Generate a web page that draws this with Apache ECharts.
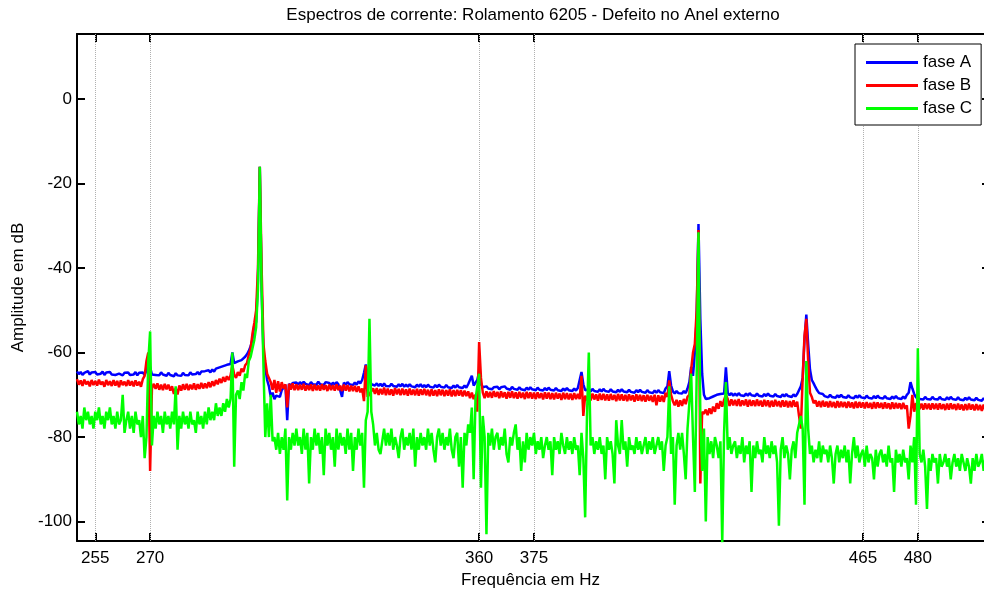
<!DOCTYPE html>
<html>
<head>
<meta charset="utf-8">
<script src="https://cdn.jsdelivr.net/npm/echarts@6/dist/echarts.min.js"></script>
<style>html,body{margin:0;padding:0;background:#fff}#c{width:984px;height:592px}</style>
</head>
<body>
<div id="c"></div>
<script>
// Frequency grid: 250 Hz to 500 Hz, 0.5 Hz spacing
const fStart = 250, fStep = 0.5;
const xTicks = [255, 270, 360, 375, 465, 480];
const yTicks = [-100, -80, -60, -40, -20, 0];
const seriesNames = ['fase A', 'fase B', 'fase C'];

const faseA = [
-64.5,-65.1,-64.6,-65.3,-64.8,-65.0,-64.4,-65.2,-64.7,-65.1,
-64.6,-65.2,-64.9,-65.0,-64.5,-65.3,-64.7,-65.1,-64.6,-65.2,
-64.8,-65.3,-64.9,-65.0,-64.6,-65.4,-64.8,-65.2,-64.7,-65.3,
-64.9,-65.2,-64.6,-65.4,-64.8,-65.1,-64.7,-65.3,-64.2,-61.8,
-63.5,-65.2,-64.8,-65.3,-64.9,-65.4,-64.7,-65.2,-64.9,-65.5,
-64.8,-65.3,-65.0,-65.6,-64.9,-65.4,-65.1,-65.5,-64.8,-65.3,
-64.9,-65.4,-64.7,-65.2,-64.8,-65.1,-64.6,-65.2,-64.5,-64.9,
-64.4,-64.8,-64.2,-64.7,-64.0,-64.5,-63.8,-64.2,-63.5,-63.9,
-63.2,-63.6,-62.9,-63.3,-62.7,-60.0,-62.5,-62.8,-62.1,-62.4,
-61.8,-61.4,-61.0,-60.4,-59.6,-58.5,-56.8,-53.5,-52.8,-43.0,
-16.0,-45.0,-60.0,-63.5,-66.5,-68.0,-70.5,-69.5,-71.0,-70.2,
-69.8,-70.5,-68.9,-68.3,-67.6,-76.0,-67.4,-67.9,-67.2,-67.6,
-67.1,-67.6,-67.0,-67.5,-66.9,-67.4,-67.1,-67.7,-67.0,-67.5,
-67.2,-67.6,-66.9,-67.5,-67.1,-67.7,-67.0,-67.4,-67.2,-67.8,
-67.1,-67.6,-67.0,-67.5,-67.2,-70.5,-67.1,-67.6,-67.0,-67.5,
-67.2,-67.7,-67.1,-67.6,-66.8,-67.3,-66.5,-64.8,-62.8,-65.5,
-66.0,-67.5,-67.2,-67.8,-67.3,-67.9,-67.4,-68.0,-67.3,-67.9,
-67.5,-68.0,-67.4,-67.9,-67.6,-68.1,-67.5,-68.0,-67.4,-68.1,
-67.6,-68.1,-67.5,-68.0,-67.7,-68.2,-67.6,-68.1,-67.5,-68.2,
-67.7,-68.2,-67.6,-68.1,-67.8,-68.3,-67.7,-68.2,-67.6,-68.1,
-67.8,-68.3,-67.7,-68.2,-67.9,-68.4,-67.8,-68.3,-67.7,-68.2,
-67.9,-68.4,-67.8,-68.3,-67.5,-67.9,-65.5,-67.8,-68.0,-66.5,
-64.5,-67.5,-68.2,-68.6,-68.0,-68.5,-68.1,-68.7,-68.2,-68.6,
-68.1,-68.7,-68.2,-68.6,-68.0,-68.5,-68.2,-68.8,-68.1,-68.6,
-68.3,-68.8,-68.2,-68.7,-68.4,-68.9,-68.3,-68.8,-68.2,-68.7,
-68.4,-68.9,-68.3,-68.8,-68.5,-69.0,-68.4,-68.9,-68.3,-68.8,
-68.5,-69.0,-68.4,-68.9,-68.6,-69.1,-68.5,-69.0,-68.4,-68.9,
-68.6,-69.1,-68.5,-69.0,-68.4,-68.8,-64.6,-67.5,-68.9,-69.2,
-68.7,-69.2,-68.6,-69.1,-68.8,-69.3,-68.7,-69.2,-68.6,-69.1,
-68.8,-69.3,-68.7,-69.2,-68.9,-69.4,-68.8,-69.3,-68.7,-69.2,
-68.9,-69.4,-68.8,-69.3,-69.0,-69.5,-68.9,-69.4,-68.8,-69.3,
-69.0,-69.5,-68.9,-69.4,-69.1,-69.6,-69.0,-69.5,-68.9,-69.4,
-69.1,-69.6,-68.5,-68.0,-64.4,-67.8,-69.2,-69.7,-69.1,-69.6,
-69.2,-69.7,-69.1,-69.6,-68.5,-67.0,-63.4,-65.5,-60.0,-52.0,
-29.6,-52.0,-65.0,-70.0,-71.0,-71.3,-70.8,-71.0,-70.4,-70.7,
-70.0,-70.4,-69.8,-70.1,-69.7,-63.5,-69.5,-70.1,-69.6,-70.2,
-69.7,-70.2,-69.6,-70.1,-69.8,-70.3,-69.7,-70.2,-69.6,-70.1,
-69.8,-70.3,-69.7,-70.2,-69.9,-70.4,-69.8,-70.3,-69.7,-70.2,
-69.9,-70.4,-69.8,-70.3,-70.0,-70.5,-69.9,-70.4,-69.8,-70.3,
-70.0,-70.5,-69.9,-70.4,-69.8,-69.5,-68.0,-66.0,-57.0,-51.0,
-58.0,-64.0,-66.5,-67.3,-68.2,-69.0,-69.6,-70.0,-69.8,-70.3,
-70.1,-70.6,-70.0,-70.5,-70.2,-70.7,-70.1,-70.6,-70.0,-70.5,
-70.2,-70.7,-70.1,-70.6,-70.3,-70.8,-70.2,-70.7,-70.1,-70.6,
-70.3,-70.8,-70.2,-70.7,-70.4,-70.9,-70.3,-70.8,-70.2,-70.7,
-70.4,-70.9,-70.3,-70.8,-70.5,-71.0,-70.4,-70.9,-70.3,-70.8,
-70.5,-71.0,-70.4,-70.9,-70.0,-69.5,-67.0,-68.5,-69.8,-70.6,
-70.5,-71.0,-70.6,-71.1,-70.5,-71.0,-70.6,-71.1,-70.5,-71.0,
-70.6,-71.1,-70.5,-71.0,-70.7,-71.2,-70.6,-71.1,-70.5,-71.0,
-70.7,-71.2,-70.6,-71.1,-70.8,-71.3,-70.7,-71.2,-70.6,-71.1,
-70.8,-71.3,-70.7,-71.2,-70.9,-71.4,-70.8,-71.3,-70.7,-71.2,
-70.9
];

const faseB = [
-66.3,-67.6,-66.6,-67.9,-66.4,-67.5,-66.8,-68.0,-66.5,-67.7,
-66.7,-67.8,-66.4,-67.6,-66.9,-68.1,-66.5,-67.7,-66.8,-67.9,
-66.5,-67.8,-66.7,-68.2,-66.6,-67.7,-66.9,-67.9,-66.5,-67.8,
-66.8,-68.0,-66.6,-67.8,-66.9,-68.1,-66.3,-65.5,-62.0,-60.0,
-88.0,-68.5,-67.4,-68.6,-67.3,-68.8,-67.6,-68.9,-67.4,-68.7,
-67.6,-69.0,-68.0,-69.8,-68.4,-69.9,-67.8,-69.0,-67.5,-68.8,
-67.4,-68.9,-67.6,-68.7,-67.3,-68.8,-67.5,-68.6,-67.2,-68.5,
-67.3,-68.4,-67.0,-68.2,-66.8,-67.9,-66.5,-67.5,-66.2,-67.2,
-65.8,-66.9,-65.6,-66.5,-65.4,-63.0,-65.2,-66.0,-64.6,-65.5,
-63.8,-64.6,-63.0,-62.5,-60.5,-59.0,-55.5,-53.0,-50.0,-40.0,
-16.0,-40.0,-58.0,-62.0,-65.0,-66.0,-67.0,-68.8,-66.5,-69.5,
-66.8,-69.2,-67.0,-68.5,-67.5,-73.0,-67.4,-68.8,-67.3,-68.9,
-67.5,-68.9,-67.6,-68.8,-67.4,-69.0,-67.7,-68.9,-67.5,-69.1,
-67.6,-68.9,-67.8,-69.0,-67.5,-68.8,-67.7,-69.1,-67.6,-68.9,
-67.7,-69.0,-67.5,-68.9,-67.8,-69.1,-67.6,-69.0,-67.7,-69.2,
-67.8,-69.1,-67.9,-69.3,-68.0,-69.4,-68.5,-71.5,-63.0,-70.5,
-69.8,-70.2,-68.5,-69.8,-68.4,-70.0,-68.6,-69.9,-68.3,-70.1,
-68.5,-70.0,-68.7,-70.2,-68.4,-69.9,-68.6,-70.1,-68.5,-70.0,
-68.7,-70.2,-68.5,-70.0,-68.8,-70.1,-68.6,-70.2,-68.7,-70.0,
-68.6,-70.1,-68.8,-70.3,-68.7,-70.2,-68.9,-70.3,-68.7,-70.1,
-68.8,-70.3,-68.9,-70.2,-68.7,-70.4,-68.9,-70.3,-68.8,-70.2,
-68.9,-70.4,-69.0,-70.3,-69.2,-70.8,-69.5,-71.0,-70.0,-74.0,
-57.5,-66.0,-69.5,-70.8,-69.2,-70.6,-69.3,-70.7,-69.1,-70.5,
-69.3,-70.8,-69.2,-70.6,-69.4,-70.9,-69.3,-70.7,-69.2,-70.8,
-69.4,-70.9,-69.3,-70.7,-69.5,-71.0,-69.3,-70.8,-69.4,-70.9,
-69.5,-71.0,-69.4,-70.8,-69.6,-71.1,-69.4,-70.9,-69.5,-71.0,
-69.6,-71.1,-69.5,-70.9,-69.7,-71.2,-69.5,-71.0,-69.6,-71.1,
-69.7,-71.2,-69.6,-71.0,-69.8,-71.0,-65.5,-75.0,-70.2,-71.3,
-69.8,-71.3,-69.7,-71.1,-69.9,-71.4,-69.7,-71.2,-69.8,-71.3,
-69.9,-71.4,-69.8,-71.2,-70.0,-71.5,-69.8,-71.3,-69.9,-71.4,
-70.0,-71.5,-69.9,-71.3,-70.1,-71.6,-69.9,-71.4,-70.0,-71.5,
-70.1,-71.6,-70.0,-71.4,-70.2,-71.7,-70.0,-72.5,-70.1,-71.6,
-70.2,-71.7,-69.5,-70.5,-66.6,-70.0,-71.5,-72.5,-71.2,-72.8,
-71.3,-72.6,-71.0,-72.2,-70.5,-70.0,-64.0,-60.0,-58.0,-50.0,
-31.0,-91.0,-74.0,-74.5,-73.5,-74.8,-73.2,-74.5,-72.8,-74.0,
-72.0,-73.3,-71.5,-72.8,-71.2,-70.0,-71.0,-72.6,-71.1,-72.5,
-71.2,-72.6,-71.0,-72.7,-71.3,-72.5,-71.1,-72.8,-71.2,-72.6,
-71.3,-72.7,-71.1,-72.6,-71.4,-72.8,-71.2,-72.7,-71.3,-72.9,
-71.4,-72.8,-71.2,-72.7,-71.5,-72.9,-71.3,-72.8,-71.4,-73.0,
-71.5,-72.9,-71.3,-72.8,-71.6,-75.0,-78.0,-66.0,-56.0,-52.0,
-62.0,-69.5,-70.5,-72.0,-71.3,-72.8,-71.5,-72.9,-71.4,-72.8,
-71.6,-73.0,-71.5,-72.9,-71.7,-73.1,-71.5,-73.0,-71.6,-72.9,
-71.7,-73.1,-71.6,-73.0,-71.8,-73.2,-71.6,-73.1,-71.7,-73.0,
-71.8,-73.2,-71.7,-73.1,-71.9,-73.3,-71.7,-73.2,-71.8,-73.1,
-71.9,-73.3,-71.8,-73.2,-72.0,-73.4,-71.8,-73.3,-71.9,-73.2,
-72.0,-73.4,-71.9,-73.3,-72.5,-78.0,-75.0,-70.0,-74.0,-72.0,
-72.0,-73.4,-72.1,-73.5,-72.0,-73.4,-72.1,-73.5,-72.0,-73.4,
-72.1,-73.5,-72.0,-73.4,-72.2,-73.6,-72.1,-73.5,-72.0,-73.4,
-72.2,-73.6,-72.1,-73.5,-72.3,-73.7,-72.2,-73.6,-72.1,-73.5,
-72.3,-73.7,-72.2,-73.6,-72.4,-73.8,-72.3,-73.7,-72.2,-73.6,
-72.4
];

const faseC = [
-74,-77,-75,-78,-73,-76,-74,-77,-75,-78,
-74,-76,-73,-77,-75,-78,-74,-76,-73,-77,
-75,-78,-74,-77,-76,-70,-79,-76,-74,-78,
-75,-79,-74,-77,-76,-80,-75,-85,-80,-62,
-55,-82,-75,-78,-74,-77,-75,-79,-74,-77,
-75,-78,-74,-77,-68,-83,-75,-78,-74,-77,
-75,-78,-74,-77,-76,-79,-74,-77,-75,-78,
-74,-77,-73,-76,-74,-76,-72,-75,-73,-75,
-72,-74,-71,-73,-71,-60,-87,-70,-69,-71,
-67,-69,-65,-66,-62,-61,-59,-57,-54,-45,
-16,-45,-63,-80,-72,-80,-70,-81,-80,-83,
-79,-84,-80,-83,-78,-95,-80,-83,-79,-82,
-78,-82,-80,-84,-78,-83,-79,-91,-80,-83,
-78,-82,-79,-84,-80,-89,-78,-82,-79,-83,
-80,-87,-78,-83,-79,-82,-80,-84,-78,-83,
-79,-88,-80,-83,-78,-82,-79,-92,-76,-74,
-52,-74,-77,-82,-79,-83,-84,-81,-78,-82,
-79,-82,-78,-83,-80,-82,-85,-80,-78,-83,
-80,-82,-79,-83,-78,-87,-80,-83,-79,-82,
-80,-83,-78,-82,-79,-83,-86,-80,-78,-82,
-79,-83,-80,-82,-78,-83,-85,-80,-79,-87,
-80,-92,-79,-82,-77,-79,-73,-90,-71,-68,
-65,-92,-75,-80,-103,-79,-82,-78,-83,-80,
-79,-83,-80,-82,-78,-84,-86,-80,-82,-79,
-77,-83,-80,-88,-81,-86,-79,-83,-80,-82,
-79,-84,-81,-83,-80,-85,-82,-80,-83,-81,
-89,-80,-83,-81,-84,-79,-82,-84,-80,-83,
-81,-84,-80,-83,-82,-89,-79,-85,-99,-75,
-60,-82,-80,-84,-81,-83,-80,-84,-82,-90,
-80,-83,-81,-84,-91,-76,-82,-84,-76,-83,
-81,-87,-80,-83,-82,-84,-80,-83,-81,-84,
-82,-80,-84,-81,-83,-80,-84,-82,-80,-83,
-81,-88,-82,-80,-68,-84,-80,-96,-82,-79,
-83,-79,-84,-90,-78,-72,-65,-80,-93,-66,
-31.5,-75,-88,-78,-100,-80,-84,-81,-85,-80,
-82,-85,-81,-105,-79,-67,-83,-80,-84,-82,
-81,-85,-82,-84,-80,-86,-82,-84,-81,-93,
-82,-85,-81,-84,-83,-86,-80,-84,-82,-85,
-81,-84,-82,-86,-101,-83,-80,-85,-82,-84,
-90,-83,-81,-85,-79,-77,-75,-78,-96,-62,
-78,-84,-82,-86,-83,-85,-81,-86,-82,-84,
-83,-86,-82,-85,-91,-84,-82,-86,-83,-85,
-82,-86,-83,-91,-84,-80,-85,-82,-86,-84,
-83,-87,-82,-86,-84,-85,-90,-83,-87,-84,
-83,-86,-84,-87,-82,-86,-85,-93,-83,-86,
-84,-87,-83,-86,-85,-90,-82,-86,-80,-96,
-59,-84,-86,-83,-87,-97,-85,-88,-84,-86,
-85,-91,-84,-87,-86,-84,-87,-85,-90,-86,
-84,-87,-85,-88,-84,-86,-88,-85,-87,-91,
-85,-88,-84,-87,-86,-84,-88,-85,-87,-86,
-85
];

const colors = ['#0000ff', '#ff0000', '#00ff00'];
const FONT = '"Liberation Sans", Arial, Helvetica, sans-serif';

function pairs(vals) {
  return vals.map((v, i) => [fStart + i * fStep, v]);
}

const chart = echarts.init(document.getElementById('c'), null, {renderer: 'canvas'});
const axisLine = {show: true, onZero: false, lineStyle: {color: '#000', width: 2}};
const tickStyle = {color: '#000', width: 2};

chart.setOption({
  animation: false,
  backgroundColor: '#fff',
  textStyle: {fontFamily: FONT},
  title: {
    text: 'Espectros de corrente: Rolamento 6205 - Defeito no Anel externo',
    left: 533, top: 7, padding: 0, textAlign: 'center',
    textStyle: {fontSize: 17, fontWeight: 'normal', color: '#000', fontFamily: FONT}
  },
  grid: {left: 77, top: 34, right: 0, height: 507, containLabel: false, outerBoundsMode: 'none'},
  legend: {
    data: seriesNames,
    orient: 'vertical', left: 855, top: 44,
    padding: [10, 9, 8, 11],
    borderColor: '#000', borderWidth: 1, backgroundColor: '#fff',
    icon: 'rect', itemWidth: 52, itemHeight: 3, itemGap: 6,
    textStyle: {fontSize: 17, color: '#000', lineHeight: 17, fontFamily: FONT}
  },
  xAxis: [
    {
      type: 'value', min: 250, max: 498.1, position: 'bottom',
      axisLine: axisLine,
      axisTick: {show: true, inside: true, length: 8, lineStyle: tickStyle, customValues: xTicks},
      axisLabel: {show: true, customValues: xTicks, color: '#000', fontSize: 17, margin: 9, fontFamily: FONT},
      splitLine: {show: false},
      name: 'Frequência em Hz', nameLocation: 'middle', nameGap: 30,
      nameTextStyle: {fontSize: 17, color: '#000', fontFamily: FONT}
    },
    {
      type: 'value', min: 250, max: 498.1, position: 'top',
      axisLine: axisLine,
      axisTick: {show: true, inside: true, length: 8, lineStyle: tickStyle, customValues: xTicks},
      axisLabel: {show: false},
      splitLine: {show: false}
    }
  ],
  yAxis: [
    {
      type: 'value', min: -104.6, max: 15.4, position: 'left',
      axisLine: axisLine,
      axisTick: {show: true, inside: true, length: 8, lineStyle: tickStyle, customValues: yTicks},
      axisLabel: {show: true, customValues: yTicks, color: '#000', fontSize: 17, margin: 5, fontFamily: FONT},
      splitLine: {show: false},
      name: 'Amplitude em dB', nameLocation: 'middle', nameGap: 41,
      nameTextStyle: {fontSize: 17, color: '#000', fontFamily: FONT}
    },
    {
      type: 'value', min: -104.6, max: 15.4, position: 'right',
      axisLine: {show: false, onZero: false},
      axisTick: {show: true, inside: true, length: 2, lineStyle: tickStyle, customValues: yTicks},
      axisLabel: {show: false},
      splitLine: {show: false}
    }
  ],
  series: [
    {
      name: seriesNames[0], type: 'line', data: pairs(faseA), showSymbol: false, symbol: 'none',
      lineStyle: {color: colors[0], width: 2.5}, itemStyle: {color: colors[0]}, z: 2,
      markLine: {
        silent: true, symbol: ['none', 'none'], z: 1, animation: false,
        label: {show: false},
        lineStyle: {color: '#b0b0b0', type: 'dotted', width: 1},
        emphasis: {disabled: true},
        data: xTicks.map(v => ({xAxis: v}))
      }
    },
    {
      name: seriesNames[1], type: 'line', data: pairs(faseB), showSymbol: false, symbol: 'none',
      lineStyle: {color: colors[1], width: 2.5}, itemStyle: {color: colors[1]}, z: 3
    },
    {
      name: seriesNames[2], type: 'line', data: pairs(faseC), showSymbol: false, symbol: 'none',
      lineStyle: {color: colors[2], width: 2.5}, itemStyle: {color: colors[2]}, z: 4
    }
  ]
});
</script>
</body>
</html>
